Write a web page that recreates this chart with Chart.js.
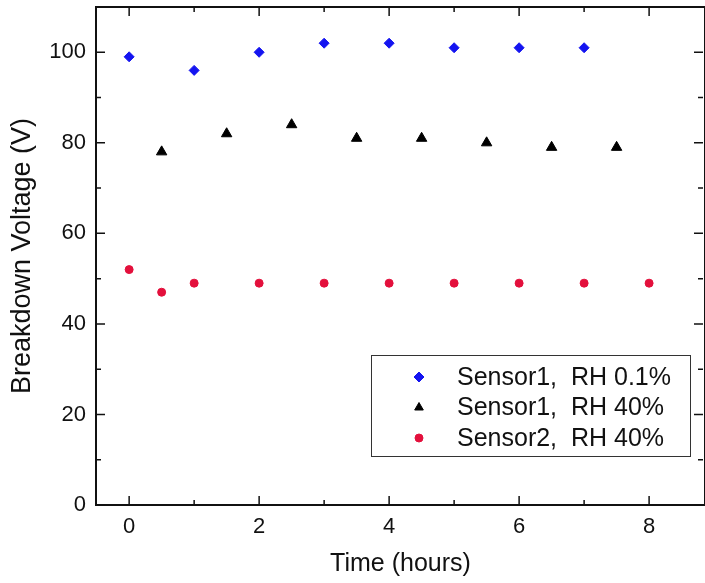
<!DOCTYPE html>
<html>
<head>
<meta charset="utf-8">
<script src="https://cdn.jsdelivr.net/npm/chart.js@4.4.1/dist/chart.umd.min.js"></script>
<style>
  html, body { margin: 0; padding: 0; background: #fff; }
  #wrap { width: 705px; height: 583px; position: relative; }
</style>
</head>
<body>
<div id="wrap"><canvas id="voltChart"></canvas></div>
<script>
// Sensor1, RH 0.1%
var timeS1dry = [0, 1, 2, 3, 4, 5, 6, 7];
var voltS1dry = [99, 96, 100, 102, 102, 101, 101, 101];
// Sensor1, RH 40%
var timeS1wet = [0.5, 1.5, 2.5, 3.5, 4.5, 5.5, 6.5, 7.5];
var voltS1wet = [78, 82, 84, 81, 81, 80, 79, 79];
// Sensor2, RH 40%
var timeS2wet = [0, 0.5, 1, 2, 3, 4, 5, 6, 7, 8];
var voltS2wet = [52, 47, 49, 49, 49, 49, 49, 49, 49, 49];

var xTicks = [0, 2, 4, 6, 8];
var yTicks = [0, 20, 40, 60, 80, 100];
var xMinor = [1, 3, 5, 7];
var yMinor = [10, 30, 50, 70, 90];

var FONT = "'Liberation Sans', Arial, sans-serif";

function toPoints(xs, ys) {
    return xs.map(function(x, i) { return {x: x, y: ys[i]}; });
}

function drawMarker(ctx, style, color, r, x, y) {
    ctx.save();
    ctx.fillStyle = color;
    ctx.strokeStyle = color;
    ctx.lineWidth = 1;
    ctx.beginPath();
    if (style === 'rectRot') {
        ctx.moveTo(x - r, y); ctx.lineTo(x, y - r); ctx.lineTo(x + r, y); ctx.lineTo(x, y + r);
    } else if (style === 'triangle') {
        ctx.moveTo(x, y - r);
        ctx.lineTo(x + Math.sin(2 * Math.PI / 3) * r, y + 0.5 * r);
        ctx.lineTo(x - Math.sin(2 * Math.PI / 3) * r, y + 0.5 * r);
    } else {
        ctx.arc(x, y, r, 0, Math.PI * 2);
    }
    ctx.closePath();
    ctx.fill();
    ctx.stroke();
    ctx.restore();
}

// drop the label overhang padding so the plot fills the frame like the original
function noPad(s) {
    s.paddingTop = 0; s.paddingBottom = 0; s.paddingLeft = 0; s.paddingRight = 0;
}

// frame with inward ticks on all four sides
var framePlugin = {
    id: 'frame',
    afterDatasetsDraw: function(chart) {
        var ctx = chart.ctx, a = chart.chartArea;
        var xs = chart.scales.x, ys = chart.scales.y;
        ctx.save();
        ctx.strokeStyle = '#111';
        ctx.lineWidth = 2;
        ctx.strokeRect(a.left, a.top, a.right - a.left, a.bottom - a.top);
        ctx.lineWidth = 1.5;
        ctx.beginPath();
        function xt(v, len) {
            var px = xs.getPixelForValue(v);
            ctx.moveTo(px, a.bottom); ctx.lineTo(px, a.bottom - len);
            ctx.moveTo(px, a.top); ctx.lineTo(px, a.top + len);
        }
        function yt(v, len) {
            var py = ys.getPixelForValue(v);
            ctx.moveTo(a.left, py); ctx.lineTo(a.left + len, py);
            ctx.moveTo(a.right - 2, py); ctx.lineTo(a.right - 2 - len, py);
        }
        xTicks.forEach(function(v) { xt(v, 9); });
        xMinor.forEach(function(v) { xt(v, 5); });
        yTicks.forEach(function(v) { yt(v, 9); });
        yMinor.forEach(function(v) { yt(v, 5); });
        ctx.stroke();
        ctx.restore();
    }
};

// legend box sitting inside the plot, bottom right
var boxLegend = {
    id: 'boxLegend',
    afterDraw: function(chart) {
        var ctx = chart.ctx, a = chart.chartArea;
        var w = 319, h = 101;
        var left = a.right - 15 - w, top = a.bottom - 49 - h;
        ctx.save();
        ctx.strokeStyle = '#333';
        ctx.lineWidth = 1;
        ctx.strokeRect(left + 0.5, top + 0.5, w, h);
        ctx.font = '25px ' + FONT;
        ctx.fillStyle = '#111';
        ctx.textBaseline = 'middle';
        ctx.textAlign = 'left';
        chart.data.datasets.forEach(function(ds, i) {
            var cy = top + 22 + i * 30.5;
            drawMarker(ctx, ds.pointStyle, ds.backgroundColor, ds.legendRadius, left + 48, cy);
            ctx.fillText(ds.label, left + 86, cy + 1);
        });
        ctx.restore();
    }
};

var ctx = document.getElementById('voltChart').getContext('2d');
new Chart(ctx, {
    type: 'scatter',
    data: {
        datasets: [
            {
                label: 'Sensor1,  RH 0.1%',
                data: toPoints(timeS1dry, voltS1dry),
                pointStyle: 'rectRot',
                backgroundColor: '#1414f0',
                borderColor: '#1414f0',
                pointRadius: 5,
                legendRadius: 5,
                borderWidth: 1
            },
            {
                label: 'Sensor1,  RH 40%',
                data: toPoints(timeS1wet, voltS1wet),
                pointStyle: 'triangle',
                backgroundColor: '#000',
                borderColor: '#000',
                pointRadius: 6,
                legendRadius: 5,
                borderWidth: 1
            },
            {
                label: 'Sensor2,  RH 40%',
                data: toPoints(timeS2wet, voltS2wet),
                pointStyle: 'circle',
                backgroundColor: '#e3103c',
                borderColor: '#e3103c',
                pointRadius: 4,
                legendRadius: 4,
                borderWidth: 1
            }
        ]
    },
    options: {
        responsive: true,
        maintainAspectRatio: false,
        animation: false,
        layout: { autoPadding: false, padding: { left: 0, top: 7, right: 0, bottom: 0 } },
        plugins: {
            legend: { display: false },
            tooltip: { enabled: false }
        },
        scales: {
            x: {
                type: 'linear',
                min: -0.51,
                max: 8.86,
                afterBuildTicks: function(s) { s.ticks = xTicks.map(function(v) { return {value: v}; }); },
                afterFit: function(s) { s.height = 78; noPad(s); },
                grid: { display: false, drawTicks: false },
                border: { display: false },
                ticks: { color: '#111', padding: 9, maxRotation: 0, font: { family: FONT, size: 22 } },
                title: {
                    display: true,
                    text: 'Time (hours)',
                    color: '#111',
                    padding: { top: 0, bottom: 4 },
                    font: { family: FONT, size: 25 }
                }
            },
            y: {
                type: 'linear',
                min: 0,
                max: 110,
                afterBuildTicks: function(s) { s.ticks = yTicks.map(function(v) { return {value: v}; }); },
                afterFit: function(s) { s.width = 96; noPad(s); },
                grid: { display: false, drawTicks: false },
                border: { display: false },
                ticks: { color: '#111', padding: 10, font: { family: FONT, size: 22 } },
                title: {
                    display: true,
                    text: 'Breakdown Voltage (V)',
                    color: '#111',
                    padding: { top: 6, bottom: 0 },
                    font: { family: FONT, size: 27 }
                }
            }
        }
    },
    plugins: [framePlugin, boxLegend]
});
</script>
</body>
</html>
